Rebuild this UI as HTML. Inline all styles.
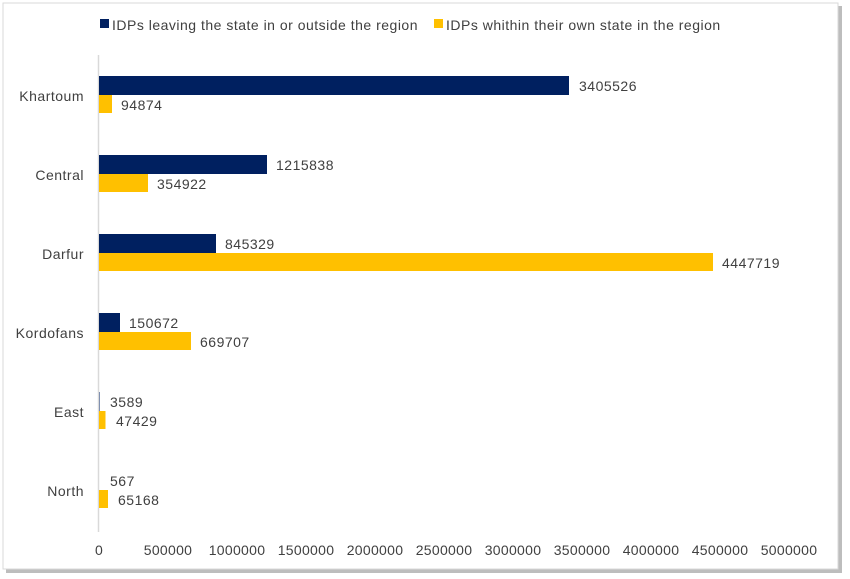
<!DOCTYPE html>
<html><head><meta charset="utf-8"><style>
body{margin:0;background:#fff;}
svg{display:block;font-family:"DejaVu Sans","Liberation Sans",sans-serif;}
</style></head><body>
<svg width="850" height="579" xmlns="http://www.w3.org/2000/svg">
<rect x="6" y="6" width="836" height="567" fill="#bdbdbd"/>
<rect x="3" y="3" width="835" height="566" fill="#fff" stroke="#d9d9d9" stroke-width="1"/>
<g font-family="Liberation Sans, sans-serif" font-size="14" letter-spacing="0.5" fill="#404040">
<rect x="100" y="19" width="9" height="9" fill="#002060"/>
<text x="112" y="30">IDPs leaving the state in or outside the region</text>
<rect x="434" y="19" width="9" height="9" fill="#FFC000"/>
<text x="446" y="30">IDPs whithin their own state in the region</text>
</g>
<line x1="98.5" y1="55" x2="98.5" y2="532" stroke="#d9d9d9" stroke-width="1.5"/>
<g font-family="Liberation Sans, sans-serif" font-size="14" letter-spacing="0.5" fill="#404040" text-anchor="end">
<text x="84" y="101">Khartoum</text>
<text x="84" y="180">Central</text>
<text x="84" y="259">Darfur</text>
<text x="84" y="338">Kordofans</text>
<text x="84" y="417">East</text>
<text x="84" y="496">North</text>
</g>
<g fill="#002060">
<rect x="99" y="76" width="470" height="19"/>
<rect x="99" y="155" width="168" height="19"/>
<rect x="99" y="234" width="117" height="19"/>
<rect x="99" y="313" width="21" height="19"/>
<rect x="99" y="392" width="0.5" height="19"/>
</g>
<g fill="#FFC000">
<rect x="99" y="95" width="13" height="18"/>
<rect x="99" y="174" width="49" height="18"/>
<rect x="99" y="253" width="614" height="18"/>
<rect x="99" y="332" width="92" height="18"/>
<rect x="99" y="411" width="6.5" height="18"/>
<rect x="99" y="490" width="9" height="18"/>
</g>
<g font-family="Liberation Sans, sans-serif" font-size="14" letter-spacing="0.5" fill="#404040">
<text x="579" y="91">3405526</text>
<text x="121" y="110">94874</text>
<text x="276" y="170">1215838</text>
<text x="157" y="189">354922</text>
<text x="225" y="249">845329</text>
<text x="722" y="268">4447719</text>
<text x="129" y="328">150672</text>
<text x="200" y="347">669707</text>
<text x="110" y="407">3589</text>
<text x="116" y="426">47429</text>
<text x="110" y="486">567</text>
<text x="118" y="505">65168</text>
</g>
<g font-family="Liberation Sans, sans-serif" font-size="14" letter-spacing="0.3" fill="#404040" text-anchor="middle">
<text x="99" y="555">0</text>
<text x="168" y="555">500000</text>
<text x="237" y="555">1000000</text>
<text x="306" y="555">1500000</text>
<text x="375" y="555">2000000</text>
<text x="444" y="555">2500000</text>
<text x="513" y="555">3000000</text>
<text x="582" y="555">3500000</text>
<text x="651" y="555">4000000</text>
<text x="720" y="555">4500000</text>
<text x="789" y="555">5000000</text>
</g>
</svg>
</body></html>
